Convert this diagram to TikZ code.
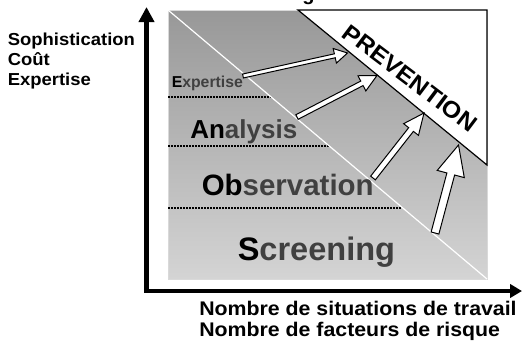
\documentclass[tikz,border=0pt]{standalone}
\usepackage{fontspec}
\setmainfont{Liberation Sans}
\usetikzlibrary{calc,arrows.meta}
\definecolor{txtgray}{RGB}{64,64,64}
\definecolor{topgray}{RGB}{152,152,152}
\definecolor{botgray}{RGB}{212,212,212}
% block arrow: #1 start, #2 tip, #3 shaft half width, #4 head half width, #5 head length
\newcommand\sbArrow[5]{%
  \coordinate (#1-b) at ($(#2)!#5!(#1)$);
  \draw[blockarr] ($(#1)!#3!90:(#2)$) -- ($(#1-b)!#3!-90:(#1)$) -- ($(#1-b)!#4!-90:(#1)$) -- (#2)
     -- ($(#1-b)!#4!90:(#1)$) -- ($(#1-b)!#3!90:(#1)$) -- ($(#1)!#3!-90:(#2)$) -- cycle;}
\begin{document}
\begin{tikzpicture}[x=0.75pt,y=-0.75pt,
  lbl/.style={inner sep=0pt, anchor=base west},
  blockarr/.style={draw=black, fill=white, line width=0.75pt, line join=miter},
  dotline/.style={line width=1.5pt, dash pattern=on 1.5pt off 0.75pt},
  axisline/.style={line width=3.4pt, line join=miter}]
\useasboundingbox (0,0) rectangle (523,344);

% clipped title fragment
\node[lbl, font=\bfseries\fontsize{15}{18}\selectfont] (title) at (302,0) {g};

% panel
\coordinate (tl) at (168,10);
\coordinate (br) at (487,279);
\shade[top color=topgray, bottom color=botgray] (tl) rectangle (br);
\draw[white!85!black, line width=0.6pt] (tl) rectangle (br);

% dotted separators
\coordinate (d1a) at (168,97);  \coordinate (d1b) at (271,97);
\coordinate (d2a) at (168,146); \coordinate (d2b) at (329,146);
\coordinate (d3a) at (168,208); \coordinate (d3b) at (402,208);
\draw[dotline] (d1a) -- (d1b);
\draw[dotline] (d2a) -- (d2b);
\draw[dotline] (d3a) -- (d3b);

% white diagonal
\draw[white, line width=0.9pt] (tl) -- (br);

% prevention triangle
\coordinate (p1) at (298,10);
\coordinate (p2) at (487,10);
\coordinate (p3) at (487,165);
\draw[fill=white, line width=0.9pt, line join=miter] (p1) -- (p2) -- (p3) -- cycle;
\node[font=\bfseries\fontsize{17.5}{20}\selectfont, rotate=-37, inner sep=0pt] (prev) at (410,78)
  {\scalebox{1.06}[1]{PREVENTION}};

% level labels
\node[lbl, font=\bfseries\fontsize{11.85}{14}\selectfont] (lexp) at (171.5,87.3) {E\textcolor{txtgray}{xpertise}};
\node[lbl, font=\bfseries\fontsize{19.5}{23}\selectfont] (lana) at (190,138.3) {An\textcolor{txtgray}{alysis}};
\node[lbl, font=\bfseries\fontsize{22.1}{26}\selectfont] (lobs) at (201.5,195) {Ob\textcolor{txtgray}{servation}};
\node[lbl, font=\bfseries\fontsize{24.4}{29}\selectfont] (lscr) at (237.5,260.7) {S\textcolor{txtgray}{creening}};

% arrows
\coordinate (s1) at (243,76);  \coordinate (t1) at (347.5,53);
\coordinate (s2) at (297,117); \coordinate (t2) at (377,75.5);
\coordinate (s3) at (373,178); \coordinate (t3) at (424,113);
\coordinate (s4) at (435,233); \coordinate (t4) at (458.5,145);
\sbArrow{s1}{t1}{1.5pt}{5.6pt}{9.75pt}
\sbArrow{s2}{t2}{1.9pt}{6.4pt}{12.75pt}
\sbArrow{s3}{t3}{2.25pt}{7.1pt}{15.75pt}
\sbArrow{s4}{t4}{3pt}{10.5pt}{22.5pt}

% axes
\coordinate (ytip) at (146.5,7);
\coordinate (orig) at (146.5,291);
\coordinate (xtip) at (522,291);
\draw[axisline, {Triangle[length=11.25pt,width=11.25pt]}-{Triangle[length=9pt,width=10pt]}] (ytip) -- (orig) -- (xtip);

% axis titles
\node[lbl, font=\bfseries\fontsize{13}{15}\selectfont] (ya1) at (7.5,45.7) {\scalebox{1.065}[1]{Sophistication}};
\node[lbl, font=\bfseries\fontsize{13}{15}\selectfont] (ya2) at (7.5,65.7) {\scalebox{1.065}[1]{Coût}};
\node[lbl, font=\bfseries\fontsize{13}{15}\selectfont] (ya3) at (7.5,85.7) {\scalebox{1.065}[1]{Expertise}};
\node[lbl, font=\bfseries\fontsize{14.8}{17}\selectfont] (xa1) at (199,315.7) {\scalebox{1.08}[1]{Nombre de situations de travail}};
\node[lbl, font=\bfseries\fontsize{14.8}{17}\selectfont] (xa2) at (199,336.5) {\scalebox{1.08}[1]{Nombre de facteurs de risque}};
\end{tikzpicture}
\end{document}
